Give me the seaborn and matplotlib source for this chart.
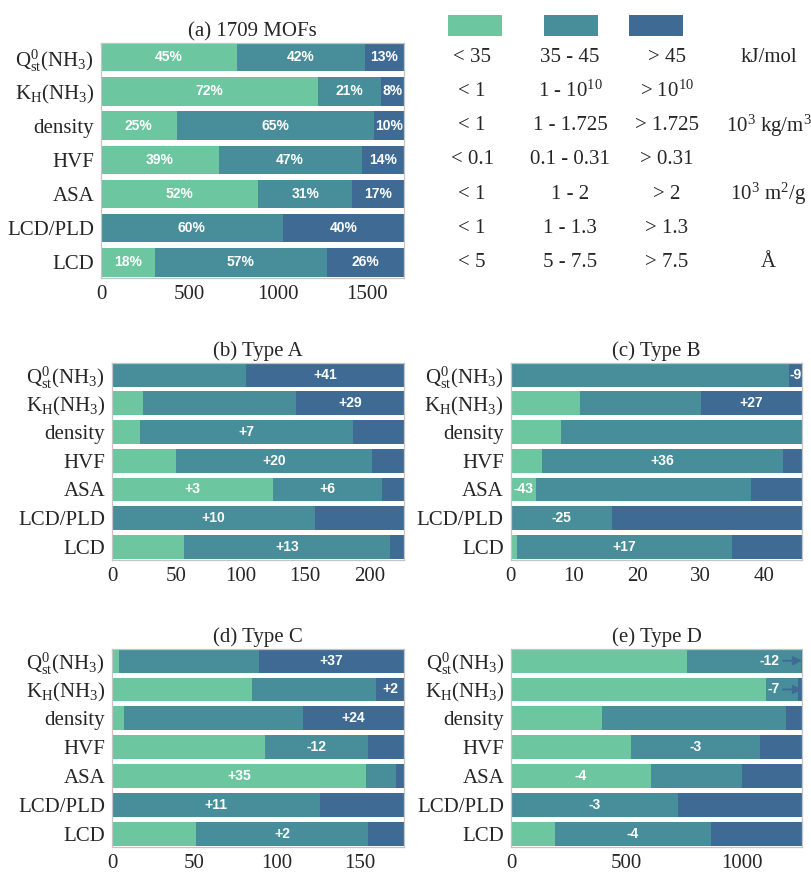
import numpy as np
import pandas as pd
import matplotlib
matplotlib.use('Agg')
import matplotlib.pyplot as plt
import matplotlib.transforms as mtransforms
from matplotlib.patches import Rectangle
import seaborn as sns

# data: MOF counts per feature bin (low / mid / high)
features = [r'$\mathregular{Q^{0}_{st}(NH_{3})}$', r'$\mathregular{K_{H}(NH_{3})}$',
            'density', 'HVF', 'ASA', 'LCD/PLD', 'LCD']

all_low = [769, 1225, 427, 663, 888, 0, 304]
all_mid = [718, 355, 1111, 807, 530, 1025, 969]
all_high = [222, 129, 171, 239, 291, 684, 436]

a_low = [0, 24, 22, 50, 125, 0, 56]
a_mid = [104, 119, 165, 152, 85, 158, 160]
a_high = [123, 84, 40, 25, 17, 69, 11]
a_labels = [(0, 2, '+41'), (1, 2, '+29'), (2, 1, '+7'), (3, 1, '+20'),
            (4, 0, '+3'), (4, 1, '+6'), (5, 1, '+10'), (6, 1, '+13')]

b_low = [0, 11, 8, 5, 4, 0, 1]
b_mid = [44, 19, 38, 38, 34, 16, 34]
b_high = [2, 16, 0, 3, 8, 30, 11]
b_labels = [(0, 2, '-9'), (1, 2, '+27'), (3, 1, '+36'), (4, 0, '-43'),
            (5, 1, '-25'), (6, 1, '+17')]

c_low = [4, 85, 7, 93, 154, 0, 51]
c_mid = [85, 75, 109, 62, 18, 126, 104]
c_high = [88, 17, 61, 22, 5, 51, 22]
c_labels = [(0, 2, '+37'), (1, 2, '+2'), (2, 2, '+24'), (3, 1, '-12'),
            (4, 0, '+35'), (5, 1, '+11'), (6, 1, '+2')]

d_low = [761, 1104, 391, 517, 603, 0, 190]
d_mid = [492, 137, 798, 560, 397, 722, 675]
d_high = [6, 18, 70, 182, 259, 537, 394]
d_labels = [(3, 1, '-3'), (4, 0, '-4'), (5, 1, '-3'), (6, 1, '-4')]
d_arrow_labels = [(0, '-12'), (1, '-7')]

# bin table
bins_low = ['< 35', '< 1', '< 1', '< 0.1', '< 1', '< 1', '< 5']
bins_mid = ['35 - 45', r'1 - $\mathregular{10^{10}}$', '1 - 1.725', '0.1 - 0.31',
            '1 - 2', '1 - 1.3', '5 - 7.5']
bins_high = ['> 45', r'> $\mathregular{10^{10}}$', '> 1.725', '> 0.31', '> 2', '> 1.3', '> 7.5']
units = ['kJ/mol', '', r'$\mathregular{10^3}$ kg/m$\mathregular{^3}$', '',
         r'$\mathregular{10^3}$ m$\mathregular{^2}$/g', '', 'Å']

colors = ['#6cc6a0', '#478e9a', '#3e6a94']

sns.set_style('white')
plt.rcParams['font.family'] = ['Liberation Serif', 'DejaVu Serif']
plt.rcParams['mathtext.fontset'] = 'stix'

fig = plt.figure(figsize=(8.11, 8.73), dpi=100)

H = 0.83
W, HT = 811, 873
LBL = 10


def make_ax(l, r, t, b):
    return fig.add_axes([l / W, 1 - b / HT, (r - l) / W, (b - t) / HT])


def stacked(ax, low, mid, high, title, xmax, xticks):
    df = pd.DataFrame({'feature': features, 'low': low, 'mid': mid, 'high': high})
    df['c2'] = df['low'] + df['mid']
    df['c3'] = df['c2'] + df['high']
    for col, c in zip(['c3', 'c2', 'low'], colors[::-1]):
        sns.barplot(data=df, y='feature', x=col, orient='h', color=c, saturation=1,
                    width=H, linewidth=0, ax=ax)
    ax.set_xlabel('')
    ax.set_ylabel('')
    ax.set_xlim(0, xmax)
    ax.set_ylim(6 + H / 2 + 0.04, -H / 2)
    ax.set_xticks(xticks)
    ax.set_title(title, fontsize=15, pad=5)
    ax.tick_params(direction='in', top=True, right=True, length=3, width=0.8,
                   color='#555555', labelsize=15, pad=5)
    for s in ax.spines.values():
        s.set_color('#c4c4c4')
        s.set_linewidth(0.9)
    return df


def seg_label(ax, df, row, seg, text):
    starts = [0, df['low'][row], df['c2'][row]]
    ends = [df['low'][row], df['c2'][row], df['c3'][row]]
    ax.text((starts[seg] + ends[seg]) / 2, row, text, color='white', fontsize=LBL,
            fontweight='bold', family='Liberation Sans', ha='center', va='center')


# (a) all MOFs with percentages
ax_a = make_ax(101, 404, 43, 278)
df_a = stacked(ax_a, all_low, all_mid, all_high, '(a) 1709 MOFs', 1709, [0, 500, 1000, 1500])
for i in range(7):
    tot = df_a['c3'][i]
    for seg, col in enumerate(['low', 'mid', 'high']):
        v = df_a[col][i]
        if v > 0:
            seg_label(ax_a, df_a, i, seg, f'{round(100 * v / tot)}%')

# bin table to the right of (a)
tab = make_ax(410, 811, 43, 278)
tab.set_xlim(0, 1)
tab.set_ylim(ax_a.get_ylim())
tab.axis('off')
trans = mtransforms.blended_transform_factory(tab.transAxes, tab.transData)
col_x = [0.155, 0.399, 0.640, 0.894]
for i in range(7):
    for x, txt in zip(col_x, [bins_low[i], bins_mid[i], bins_high[i], units[i]]):
        tab.text(x, i, txt, transform=trans, ha='center', va='center', fontsize=15)
for x0, c in zip([0.094, 0.334, 0.546], colors):
    tab.add_patch(Rectangle((x0, 1.030), 0.135, 0.089, transform=tab.transAxes,
                            facecolor=c, edgecolor='none', clip_on=False))

# (b)-(e) MOF types with differences
ax_b = make_ax(112, 404, 362.7, 560)
df_b = stacked(ax_b, a_low, a_mid, a_high, '(b) Type A', 227, [0, 50, 100, 150, 200])
for r, s, t in a_labels:
    seg_label(ax_b, df_b, r, s, t)

ax_c = make_ax(510.7, 802, 362.7, 560)
df_c = stacked(ax_c, b_low, b_mid, b_high, '(c) Type B', 46, [0, 10, 20, 30, 40])
for r, s, t in b_labels:
    seg_label(ax_c, df_c, r, s, t)

ax_d = make_ax(112, 404, 648.7, 846.7)
df_d = stacked(ax_d, c_low, c_mid, c_high, '(d) Type C', 177, [0, 50, 100, 150])
for r, s, t in c_labels:
    seg_label(ax_d, df_d, r, s, t)

ax_e = make_ax(511.3, 802, 648.7, 846.7)
df_e = stacked(ax_e, d_low, d_mid, d_high, '(e) Type D', 1259, [0, 500, 1000])
for r, s, t in d_labels:
    seg_label(ax_e, df_e, r, s, t)
for r, t in d_arrow_labels:
    ax_e.annotate(t, xy=(df_e['c3'][r], r), xytext=(-16, 0), textcoords='offset points',
                  ha='right', va='center', color='white', fontsize=LBL, fontweight='bold',
                  family='Liberation Sans',
                  arrowprops=dict(arrowstyle='-|>', color=colors[2], lw=1.3,
                                  mutation_scale=13, shrinkA=0, shrinkB=0))

fig.savefig('out.png', dpi=100)
